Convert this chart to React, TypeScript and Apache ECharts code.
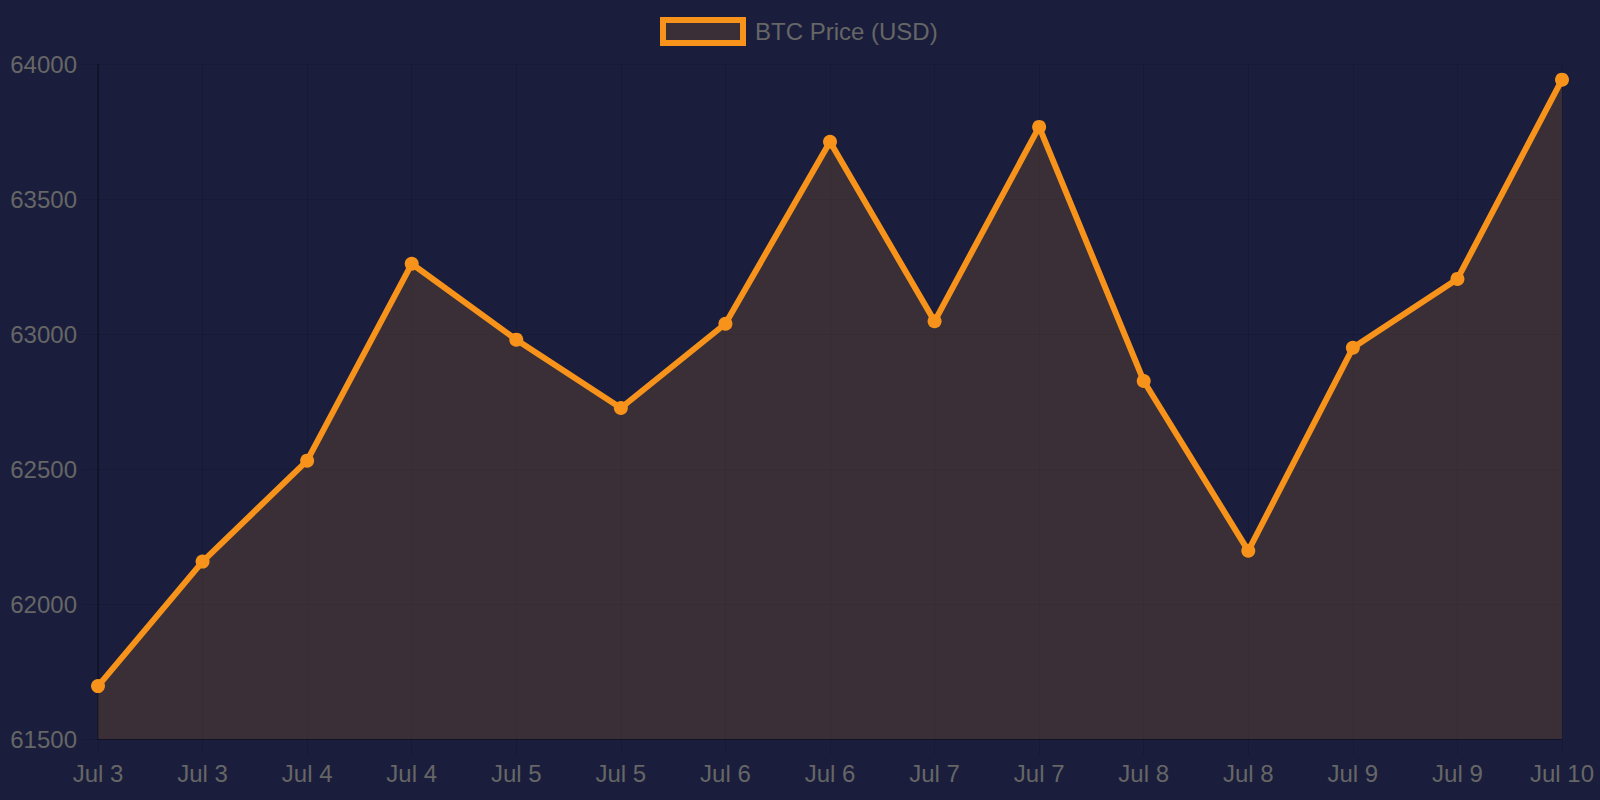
import React, { useEffect, useRef } from "react";
import * as echarts from "echarts";

const categories: string[] = [
  "Jul 3", "Jul 3", "Jul 4", "Jul 4", "Jul 5", "Jul 5", "Jul 6", "Jul 6",
  "Jul 7", "Jul 7", "Jul 8", "Jul 8", "Jul 9", "Jul 9", "Jul 10",
];
const prices: number[] = [
  61696, 62157, 62531, 63260, 62979, 62726, 63038, 63712,
  63047, 63767, 62826, 62197, 62949, 63204, 63942,
];
const seriesName = "BTC Price (USD)";
const yMin = 61500;
const yMax = 64000;
const yStep = 500;

const BG = "#1a1e3c";
const ORANGE = "#f7931a";
const FILL = "rgba(247,147,26,0.15)";
const TEXT = "#666666";
const GRID = "rgba(0,0,0,0.12)";
const FONT = "'Liberation Sans', Arial, Helvetica, sans-serif";

export default function App() {
  const ref = useRef<HTMLDivElement>(null);
  useEffect(() => {
    if (!ref.current) return;
    const chart = echarts.init(ref.current, null, { renderer: "svg" });
    chart.setOption({
      animation: false,
      backgroundColor: BG,
      textStyle: { fontFamily: FONT },
      legend: {
        left: 655,
        top: 12,
        itemWidth: 80,
        itemHeight: 23,
        icon: "rect",
        itemStyle: { color: FILL, borderColor: ORANGE, borderWidth: 6 },
        textStyle: { color: TEXT, fontSize: 24, fontFamily: FONT, padding: [0, 0, 0, 7] },
        data: [seriesName],
      },
      grid: { left: 98, right: 38, top: 64, bottom: 61, containLabel: false, outerBoundsMode: "none" },
      xAxis: {
        type: "category",
        boundaryGap: false,
        data: categories.map((c, i) => ({ value: c + "_" + i })),
        axisLine: { show: true, lineStyle: { color: "rgba(0,0,0,0.25)", width: 1 } },
        axisTick: { show: true, alignWithLabel: true, length: 16, lineStyle: { color: GRID } },
        axisLabel: {
          color: TEXT,
          fontSize: 24,
          fontFamily: FONT,
          margin: 22,
          interval: 0,
          formatter: (_v: string, i: number) => categories[i],
        },
        splitLine: { show: true, lineStyle: { color: GRID, width: 1 } },
      },
      yAxis: {
        type: "value",
        min: yMin,
        max: yMax,
        interval: yStep,
        axisLine: { show: true, lineStyle: { color: "rgba(0,0,0,0.35)", width: 1.5 } },
        axisTick: { show: true, length: 16, lineStyle: { color: GRID } },
        axisLabel: {
          color: TEXT,
          fontSize: 24,
          fontFamily: FONT,
          margin: 21,
          formatter: (v: number) => String(v),
        },
        splitLine: { show: true, lineStyle: { color: GRID, width: 1 } },
      },
      series: [
        {
          name: seriesName,
          type: "line",
          data: prices,
          smooth: false,
          symbol: "circle",
          symbolSize: 14,
          showSymbol: true,
          lineStyle: { color: ORANGE, width: 6 },
          itemStyle: { color: ORANGE },
          areaStyle: { color: FILL, opacity: 1, origin: "start" },
        },
      ],
    });
    return () => chart.dispose();
  }, []);
  return (
    <div
      ref={ref}
      style={{ position: "fixed", left: 0, top: 0, width: 1600, height: 800, background: BG }}
    />
  );
}
